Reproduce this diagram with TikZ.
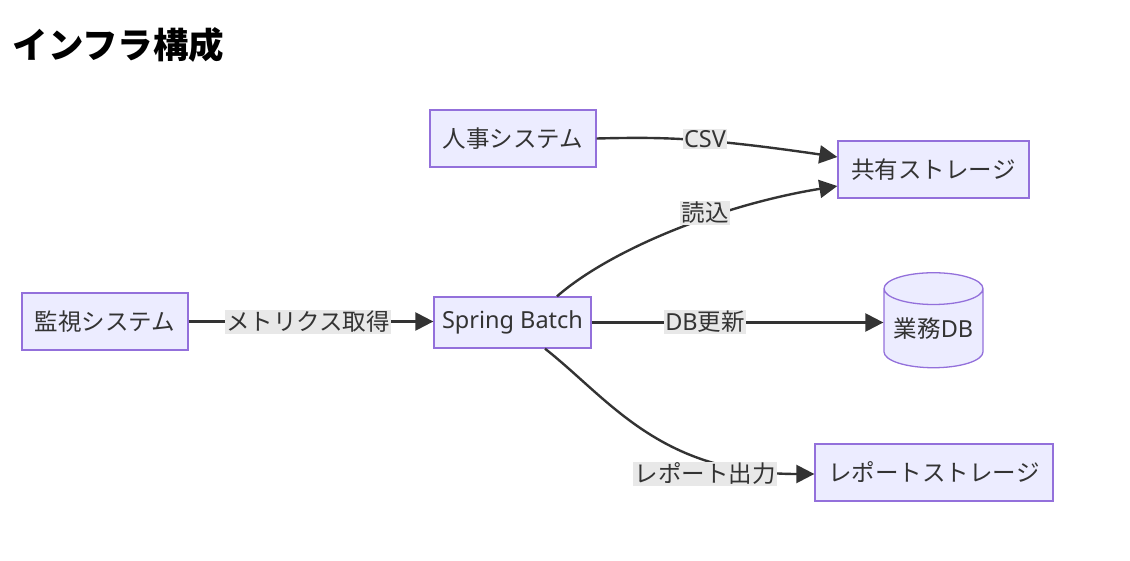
\documentclass[tikz,border=0pt]{standalone}
\usepackage{fontspec}
\setmainfont{Noto Sans}
\newfontfamily\jp{Noto Sans CJK JP}
\usetikzlibrary{shapes.geometric, arrows.meta, positioning}
\definecolor{boxfill}{HTML}{ECECFF}
\definecolor{boxline}{HTML}{9370DB}
\definecolor{edgeline}{HTML}{333333}
\definecolor{lblfill}{HTML}{E8E8E8}
\tikzstyle{arrow} = [line width=2.4pt, draw=edgeline, -{Triangle[length=18pt,width=18pt]}]

\begin{document}
\begin{tikzpicture}
	[x=1pt, y=-1pt,
	box/.style={draw=boxline, fill=boxfill, line width=1.3pt, minimum height=57pt, inner xsep=0pt,
		text=edgeline, font=\fontsize{23.5}{27}\selectfont},
	dbnode/.style={cylinder, shape border rotate=90, aspect=0.4, draw=boxline, fill=boxfill,
		line width=1.3pt, minimum width=99pt, minimum height=95pt, inner sep=0pt,
		text=edgeline, font=\fontsize{23.5}{27}\selectfont},
	lbl/.style={fill=lblfill, inner sep=1.5pt, text=edgeline, font=\fontsize{23.5}{27}\selectfont}]
	\useasboundingbox (0,0) rectangle (1130,561);

	\node[anchor=west, font=\jp\bfseries\fontsize{35.5}{40}\selectfont] (title) at (9,45) {インフラ構成};

	\node[box, minimum width=166pt] (hr) at (513,138.5) {\jp 人事システム};
	\node[box, minimum width=191pt] (share) at (933.5,169.5) {\jp 共有ストレージ};
	\node[box, minimum width=166pt] (monitor) at (105,321.5) {\jp 監視システム};
	\node[box, minimum width=157pt, minimum height=51pt] (batch) at (512.5,322.5) {Spring Batch};
	\node[dbnode] (bizdb) at (933.5,328.5) {{\jp 業務}DB};
	\node[box, minimum width=238pt] (report) at (934,472.5) {\jp レポートストレージ};

	% connectors
	\draw[arrow] (hr.east) .. controls (660,137) and (700,137) .. ([yshift=12.5pt]share.west);
	\draw[arrow] ([xshift=44.5pt]batch.north) .. controls (610,250) and (720,205) .. ([yshift=-16.5pt]share.west);
	\draw[arrow] (monitor) -- (monitor -| batch.west);
	\draw[arrow] (batch) -- (batch -| bizdb.west);
	\draw[arrow] ([xshift=32.5pt]batch.south) .. controls (610,400) and (660,474) .. ([yshift=-1.5pt]report.west);

	% edge labels
	\node[lbl] (lcsv) at (705,139) {CSV};
	\node[lbl] (lread) at (705,213) {\jp 読込};
	\node[lbl] (lmetric) at (308,322) {\jp メトリクス取得};
	\node[lbl] (lupdate) at (705,322) {DB{\jp 更新}};
	\node[lbl] (lreport) at (705,474) {\jp レポート出力};
\end{tikzpicture}
\end{document}
